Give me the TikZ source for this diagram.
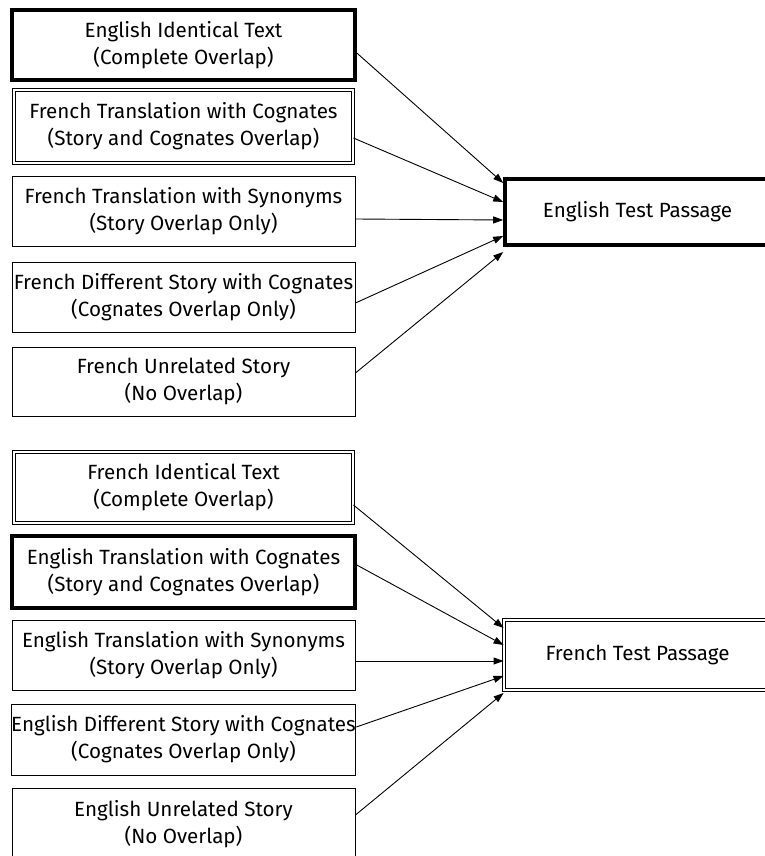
\documentclass[tikz,border=0pt]{standalone}
\usepackage{fontspec}
\setmainfont{Fira Sans}
\usetikzlibrary{arrows.meta}
\begin{document}
\begin{tikzpicture}[x=1pt,y=-1pt,
  box/.style={draw,rectangle,inner sep=0pt,align=center,line width=0.9pt,
    font=\fontsize{20.6}{27}\selectfont},
  thickbox/.style={box,line width=3.6pt},
  dblbox/.style={box,line width=0.9pt,double,double distance=2pt},
  arr/.style={line width=0.9pt,-{Triangle[length=10pt,width=7pt]}}]
\useasboundingbox (0,0) rectangle (765,856);
\clip (0,0) rectangle (765,856);
% top group
\node[thickbox,minimum width=343pt,minimum height=70pt] (b1) at (183.5,45) {English Identical Text\\(Complete Overlap)};
\node[dblbox,minimum width=339pt,minimum height=73pt] (b2) at (183.5,126.5) {French Translation with Cognates\\(Story and Cognates Overlap)};
\node[box,minimum width=343pt,minimum height=70pt] (b3) at (183.5,211) {French Translation with Synonyms\\(Story Overlap Only)};
\node[box,minimum width=343pt,minimum height=70pt] (b4) at (183.5,297) {French Different Story with Cognates\\(Cognates Overlap Only)};
\node[box,minimum width=343pt,minimum height=69pt] (b5) at (183.5,381.5) {French Unrelated Story\\(No Overlap)};
\node[thickbox,minimum width=265pt,minimum height=66pt] (t1) at (637.5,212) {English Test Passage};
% bottom group
\node[dblbox,minimum width=339pt,minimum height=71pt] (b6) at (183.5,487.5) {French Identical Text\\(Complete Overlap)};
\node[thickbox,minimum width=343pt,minimum height=72pt] (b7) at (183.5,572) {English Translation with Cognates\\(Story and Cognates Overlap)};
\node[box,minimum width=343pt,minimum height=70pt] (b8) at (183.5,655) {English Translation with Synonyms\\(Story Overlap Only)};
\node[box,minimum width=343pt,minimum height=71pt] (b9) at (183.5,739.5) {English Different Story with Cognates\\(Cognates Overlap Only)};
\node[box,minimum width=343pt,minimum height=72pt] (b10) at (183.5,824) {English Unrelated Story\\(No Overlap)};
\node[dblbox,minimum width=267pt,minimum height=70pt] (t2) at (637.5,655) {French Test Passage};
% arrows top
\draw[arr] ([yshift=-8pt]b1.east) -- ([yshift=29pt]t1.west);
\draw[arr] ([yshift=-11.5pt]b2.east) -- ([yshift=10pt]t1.west);
\draw[arr] ([yshift=-8pt]b3.east) -- ([yshift=-8pt]t1.west);
\draw[arr] ([yshift=-6pt]b4.east) -- ([yshift=-24pt]t1.west);
\draw[arr] ([yshift=8.5pt]b5.east) -- ([yshift=-40pt]t1.west);
% arrows bottom
\draw[arr] ([yshift=-17.5pt]b6.east) -- ([yshift=27pt]t2.west);
\draw[arr] ([yshift=7pt]b7.east) -- ([yshift=10pt]t2.west);
\draw[arr] ([yshift=-6pt]b8.east) -- ([yshift=-6pt]t2.west);
\draw[arr] ([yshift=12.5pt]b9.east) -- ([yshift=-21pt]t2.west);
\draw[arr] ([yshift=9pt]b10.east) -- ([yshift=-38pt]t2.west);
\end{tikzpicture}
\end{document}
